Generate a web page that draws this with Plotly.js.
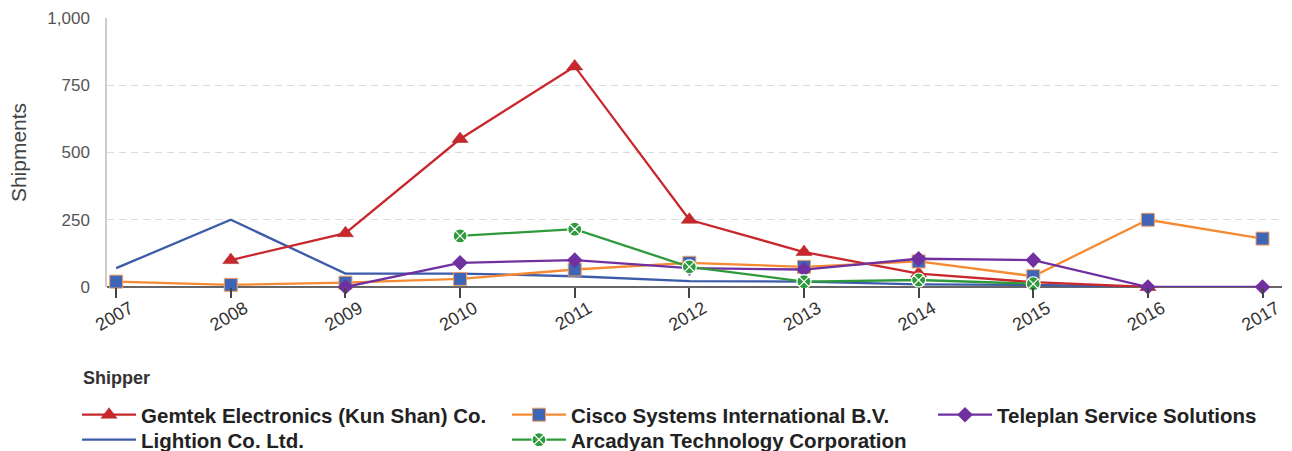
<!DOCTYPE html>
<html>
<head>
<meta charset="utf-8">
<script src="https://cdn.plot.ly/plotly-3.0.1.min.js"></script>
<style>html,body{margin:0;padding:0;background:#fff;}#chart{width:1292px;height:451px;}</style>
</head>
<body>
<div id="chart"></div>
<script>
var years = [2007, 2008, 2009, 2010, 2011, 2012, 2013, 2014, 2015, 2016, 2017];
var gemtek   = [null, 100, 200, 550, 820, 250, 130, 50, 18, 0, null];
var cisco    = [20, 8, 16, 30, 65, 90, 75, 95, 40, 250, 180];
var teleplan = [null, null, 0, 90, 100, 70, 65, 105, 100, 0, 0];
var lightion = [70, 250, 50, 50, 40, 22, 20, 10, 8, 0, null];
var arcadyan = [null, null, null, 190, 215, 75, 20, 26, 12, null, null];
var yTicks = [0, 250, 500, 750, 1000];
var seriesNames = ["Gemtek Electronics (Kun Shan) Co.", "Cisco Systems International B.V.", "Teleplan Service Solutions", "Lightion Co. Ltd.", "Arcadyan Technology Corporation"];

var FONT = "Liberation Sans, Arial, sans-serif";

var traces = [
  {name: seriesNames[3], x: years, y: lightion, legend: "legend4", mode: "lines",
   line: {color: "#3c5ba9", width: 2.3}},
  {name: seriesNames[0], x: years, y: gemtek, legend: "legend", mode: "lines+markers",
   line: {color: "#c8282c", width: 2.3},
   marker: {symbol: "triangle-up", size: 14, color: "#c8282c", line: {color: "#a02020", width: 0.5}}},
  {name: seriesNames[1], x: years, y: cisco, legend: "legend2", mode: "lines+markers",
   line: {color: "#f58a33", width: 2.3},
   marker: {symbol: "square", size: 13, color: "#3f65b6", line: {color: "#f5a060", width: 1}}},
  {name: seriesNames[2], x: years, y: teleplan, legend: "legend3", mode: "lines+markers",
   line: {color: "#7030a0", width: 2.3},
   marker: {symbol: "diamond", size: 12, color: "#7030a0"}},
  {name: seriesNames[4], x: years, y: arcadyan, legend: "legend5", mode: "lines+markers",
   line: {color: "#2f9a3c", width: 2.3},
   marker: {symbol: "circle-x", size: 14, color: "#2f9a3c", line: {color: "#ffffff", width: 1.2}}}
];
traces.forEach(function (t) { t.cliponaxis = false; t.connectgaps = false; t.hoverinfo = "x+y+name"; });

function legendAt(x, y) {
  return {x: x, y: y, xanchor: "left", yanchor: "top", orientation: "v",
          bgcolor: "rgba(0,0,0,0)", borderwidth: 0, itemwidth: 54,
          font: {family: FONT, size: 20.5, color: "#222", weight: "bold"}};
}

var layout = {
  width: 1292, height: 451,
  margin: {l: 107, r: 10, t: 18, b: 164, autoexpand: false},
  paper_bgcolor: "#ffffff", plot_bgcolor: "#ffffff",
  font: {family: FONT, color: "#333"},
  showlegend: true,
  xaxis: {
    range: [2006.92, 2017.17], tickvals: years, ticktext: years.map(String),
    showgrid: false, zeroline: false, showline: false,
    ticks: "outside", ticklen: 10, tickwidth: 1.5, tickcolor: "#444",
    tickangle: -30, ticklabelshift: 14, ticklabelstandoff: -7,
    tickfont: {family: FONT, size: 18, color: "#333"}
  },
  yaxis: {
    range: [0, 1000], tickvals: yTicks, tickformat: ",",
    showgrid: true, gridcolor: "#dcdcdc", gridwidth: 1, griddash: "7px,5px",
    zeroline: true, zerolinecolor: "#666", zerolinewidth: 2,
    showline: true, linecolor: "#cccccc", linewidth: 1.5,
    ticks: "", ticklabelstandoff: 12,
    tickfont: {family: FONT, size: 17, color: "#555"},
    title: {text: "Shipments", font: {family: FONT, size: 21, color: "#444"}, standoff: 15}
  },
  legend:  legendAt(-0.0255, -0.401),
  legend2: legendAt(0.3404, -0.401),
  legend3: legendAt(0.703, -0.401),
  legend4: legendAt(-0.0255, -0.494),
  legend5: legendAt(0.3404, -0.494),
  annotations: [{
    text: "Shipper", xref: "paper", yref: "paper", x: -0.0225, y: -0.3383,
    xanchor: "left", yanchor: "middle", showarrow: false,
    font: {family: FONT, size: 18, color: "#333", weight: "bold"}
  }]
};

Plotly.newPlot("chart", traces, layout, {displayModeBar: false});
</script>
</body>
</html>
